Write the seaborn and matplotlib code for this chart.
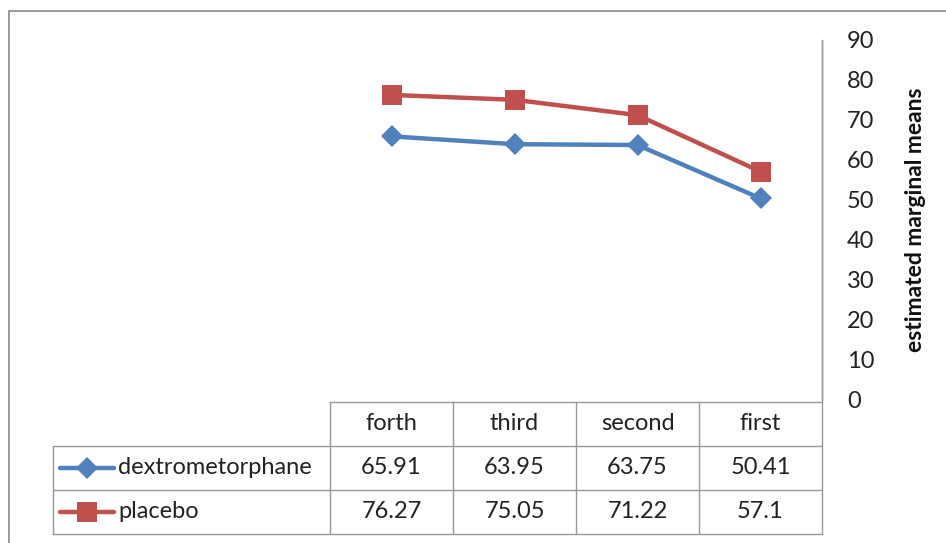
import pandas as pd
import matplotlib.pyplot as plt
import seaborn as sns
from matplotlib.lines import Line2D
from matplotlib.patches import Rectangle

sessions = ["forth", "third", "second", "first"]
dextro = [65.91, 63.95, 63.75, 50.41]
placebo = [76.27, 75.05, 71.22, 57.1]
groups = ["dextrometorphane", "placebo"]
colors = {"dextrometorphane": "#4F81BD", "placebo": "#C0504D"}
markers = {"dextrometorphane": "D", "placebo": "s"}
yticks = list(range(0, 100, 10))

df = pd.DataFrame({
    "session": sessions * 2,
    "mean": dextro + placebo,
    "group": ["dextrometorphane"] * 4 + ["placebo"] * 4,
})

sns.set_style("white")
plt.rcParams["font.family"] = ["Lato", "DejaVu Sans"]

W, H = 946, 543
fig = plt.figure(figsize=(W / 100, H / 100), dpi=100)
FS = 17
TXT = "#222222"


def fx(x):
    return x / W


def fy(y):
    return 1 - y / H


# plot area (pixels): x 330..822, y 40..400
ax = fig.add_axes([fx(330), fy(400), fx(822) - fx(330), fy(40) - fy(400)])
sns.lineplot(data=df, x="session", y="mean", hue="group", style="group",
             palette=colors, markers=markers, dashes=False, sort=False,
             linewidth=3.2, markersize=14, markeredgewidth=0, legend=False, ax=ax)
for ln in ax.lines:
    if ln.get_marker() == "D":
        ln.set_markersize(11)

ax.set_xlim(-0.5, 3.5)
ax.set_ylim(0, 90)
ax.set_yticks(yticks)
ax.yaxis.tick_right()
ax.yaxis.set_label_position("right")
ax.tick_params(axis="y", length=0, pad=18, labelsize=FS, labelcolor=TXT)
ax.set_xticks([])
ax.set_xlabel("")
ax.set_ylabel("estimated marginal means", fontsize=16.5, fontweight="bold",
              color="#111111")
ax.yaxis.label.set_va("center")
ax.yaxis.set_label_coords((915 - 330) / (822 - 330), 0.5)
for s in ["left", "top", "bottom"]:
    ax.spines[s].set_visible(False)
ax.spines["right"].set_color("#999999")
ax.spines["right"].set_linewidth(1)

# outer chart border
fig.add_artist(Rectangle((fx(9), fy(560)), fx(960) - fx(9), fy(11) - fy(560),
                         transform=fig.transFigure, fill=False,
                         edgecolor="#888888", linewidth=1.2))

# data table underneath
gc = "#999999"
cols = [330, 453, 576, 699, 822]
rows = [402, 446, 490, 534]


def hline(y, x0, x1):
    fig.add_artist(Line2D([fx(x0), fx(x1)], [fy(y), fy(y)], color=gc, lw=1))


def vline(x, y0, y1):
    fig.add_artist(Line2D([fx(x), fx(x)], [fy(y0), fy(y1)], color=gc, lw=1))


hline(rows[0], cols[0], cols[-1])
for y in rows[1:]:
    hline(y, 53, cols[-1])
vline(53, rows[1], rows[-1])
for x in cols[:-1]:
    vline(x, rows[0], rows[-1])
vline(cols[-1], 40, rows[-1])

for i, name in enumerate(sessions):
    cx = (cols[i] + cols[i + 1]) / 2
    fig.text(fx(cx), fy((rows[0] + rows[1]) / 2), name, ha="center",
             va="center", fontsize=FS, color=TXT)

for r, (g, vals) in enumerate(zip(groups, [dextro, placebo])):
    cy = (rows[r + 1] + rows[r + 2]) / 2
    for i, v in enumerate(vals):
        cx = (cols[i] + cols[i + 1]) / 2
        fig.text(fx(cx), fy(cy), f"{v:g}", ha="center", va="center",
                 fontsize=FS, color=TXT)
    fig.add_artist(Line2D([fx(60), fx(114)], [fy(cy), fy(cy)], color=colors[g],
                          lw=3.2, solid_capstyle="round"))
    fig.add_artist(Line2D([fx(87)], [fy(cy)], color=colors[g], marker=markers[g],
                          markersize=11 if markers[g] == "D" else 14,
                          markeredgewidth=0, linestyle="none"))
    fig.text(fx(118), fy(cy), g, ha="left", va="center", fontsize=FS, color=TXT)

fig.savefig("out.png", dpi=100)
